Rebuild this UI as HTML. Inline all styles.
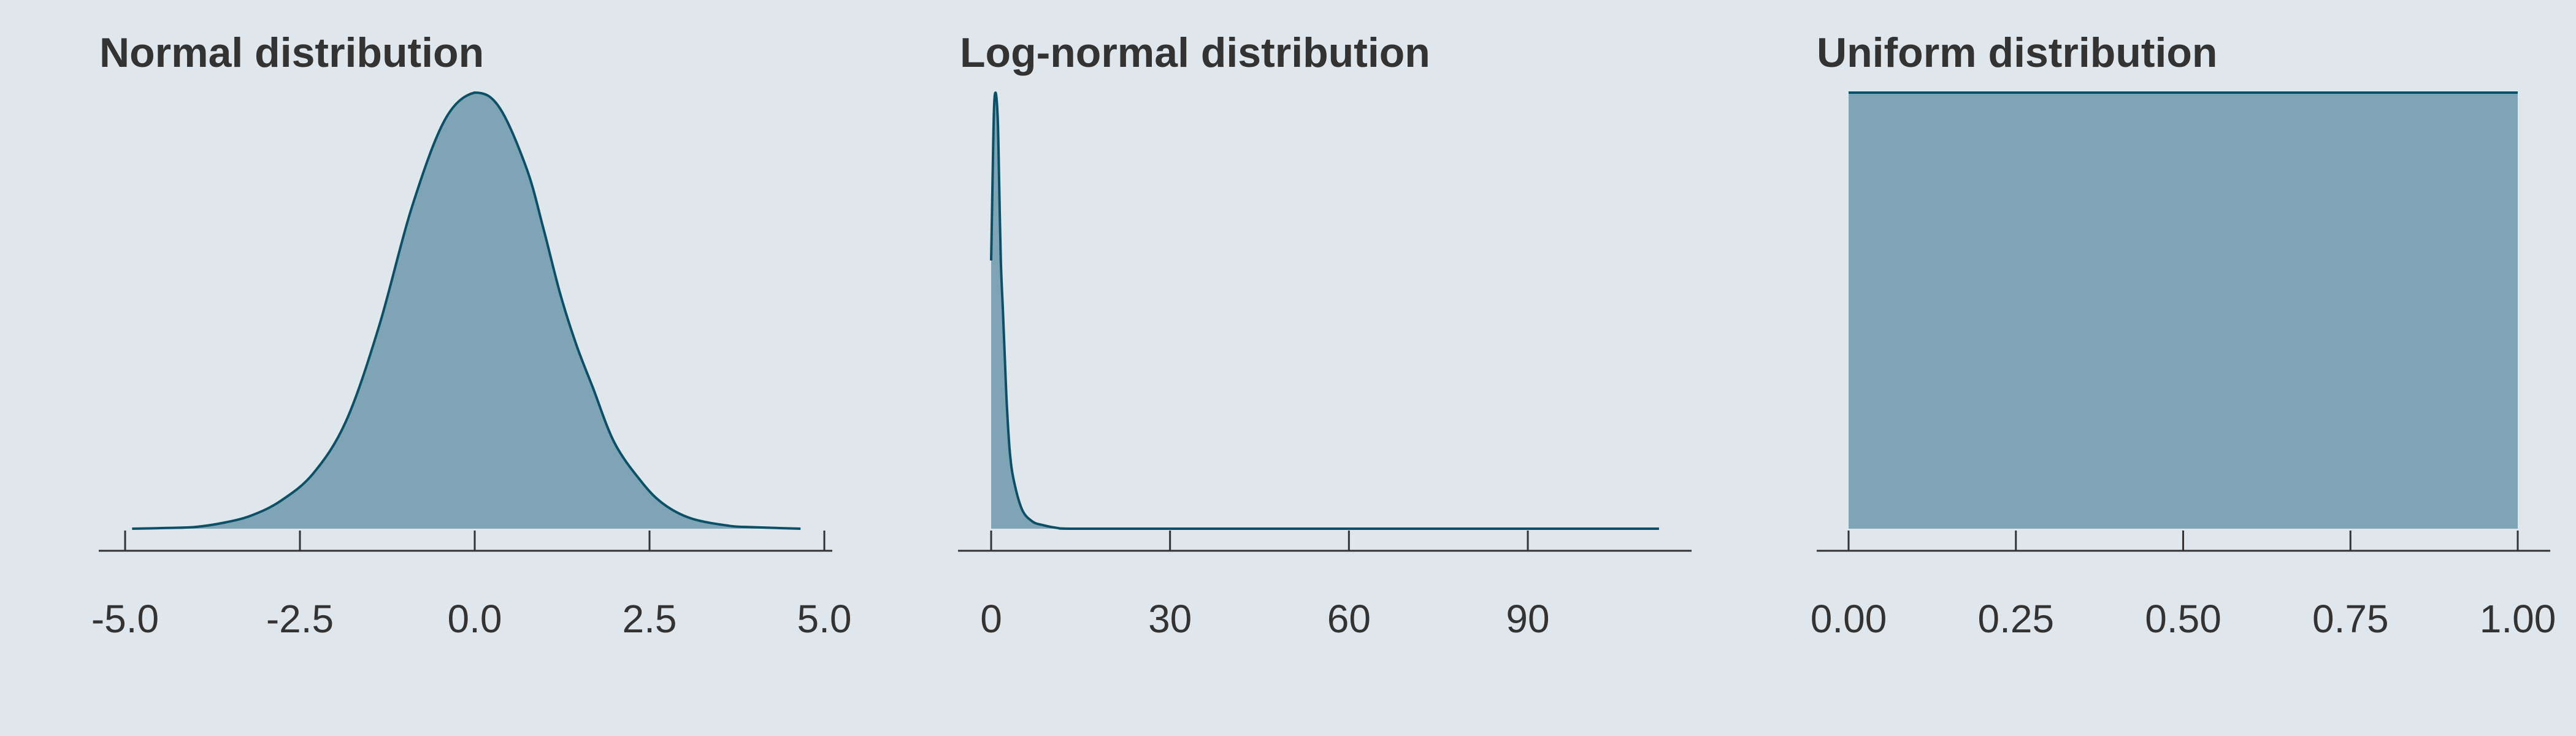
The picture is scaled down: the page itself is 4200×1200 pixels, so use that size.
<!DOCTYPE html>
<html><head><meta charset="utf-8"><style>
html,body{margin:0;padding:0;background:#dfe6ec;}
svg{display:block;}
text{font-family:"Liberation Sans",Arial,sans-serif;fill:#333;}
</style></head><body>
<svg id="chart" width="4200" height="1200" viewBox="0 0 4200 1200" xmlns="http://www.w3.org/2000/svg">
<rect x="0" y="0" width="4200" height="1200" fill="#dfe6ec"/>
</svg>
<script>
// Normal distribution density
const normalX = [-4.9,-4.4,-4.0,-3.6,-3.2,-2.78,-2.31,-1.84,-1.37,-0.9,-0.43,0,0.35,0.74,0.98,1.22,1.45,1.69,2.0,2.39,2.7,3.1,3.64,4.0,4.66];
const normalY = [0,0.0005,0.0012,0.004,0.009,0.019,0.038,0.074,0.139,0.221,0.281,0.3,0.29,0.248,0.207,0.162,0.127,0.097,0.059,0.032,0.017,0.007,0.002,0.001,0];
const normalTicks = [-5,-2.5,0,2.5,5];
const normalTickLabels = ["-5.0","-2.5","0.0","2.5","5.0"];
// Log-normal density
const lognormX = [0,0.24,0.48,0.75,1.1,1.34,1.61,1.96,2.3,2.64,3.16,3.84,5.2,6.9,8.64,11,13.8,30,60,90,112];
const lognormY = [0.369,0.479,0.578,0.6,0.565,0.479,0.371,0.302,0.233,0.168,0.103,0.065,0.026,0.010,0.005,0.0012,0,0,0,0,0];
const lognormTicks = [0,30,60,90];
const lognormTickLabels = ["0","30","60","90"];
// Uniform density
const uniformX = [0,1];
const uniformY = [1,1];
const uniformTicks = [0,0.25,0.5,0.75,1];
const uniformTickLabels = ["0.00","0.25","0.50","0.75","1.00"];

const NS = "http://www.w3.org/2000/svg";
const svg = document.getElementById('chart');
function mk(tag, attrs, parent){
  const e = document.createElementNS(NS, tag);
  for (const k in attrs) e.setAttribute(k, attrs[k]);
  (parent||svg).appendChild(e);
  return e;
}
function smoothPath(pts, minY, maxY){
  let d = 'M' + pts[0][0].toFixed(1) + ',' + pts[0][1].toFixed(1);
  const cl = v => Math.max(minY, Math.min(maxY, v));
  for (let i = 0; i < pts.length - 1; i++){
    const p0 = pts[i-1] || pts[i], p1 = pts[i], p2 = pts[i+1], p3 = pts[i+2] || p2;
    const c1x = p1[0] + (p2[0]-p0[0])/6, c1y = cl(p1[1] + (p2[1]-p0[1])/6);
    const c2x = p2[0] - (p3[0]-p1[0])/6, c2y = cl(p2[1] - (p3[1]-p1[1])/6);
    d += ' C' + c1x.toFixed(1)+','+c1y.toFixed(1)+' '+c2x.toFixed(1)+','+c2y.toFixed(1)+' '+p2[0].toFixed(1)+','+p2[1].toFixed(1);
  }
  return d;
}
const BASE = 862, SPAN = 711;
function panel(cfg){
  const g = mk('g', {});
  
  
  const sx = v => cfg.x0 + (v - cfg.d0) / (cfg.d1 - cfg.d0) * (cfg.x1 - cfg.x0);
  const sy = v => BASE - v / cfg.ymax * SPAN;
  const t = mk('text', {x: cfg.titleX, y: 109, 'font-size': 68, 'font-weight': 'bold'}, g);
  t.textContent = cfg.title;
  
  
  const pts = cfg.xs.map((x,i)=>[sx(x), sy(cfg.ys[i])]);
  const topY = Math.min(...pts.map(p=>p[1]));
  const ld = smoothPath(pts, topY, BASE);
  const ad = ld + ' L' + pts[pts.length-1][0].toFixed(1) + ',' + BASE + ' L' + pts[0][0].toFixed(1) + ',' + BASE + ' Z';
  const area = mk('path', {d: ad, fill: '#7fa4b5', stroke: 'none'}, g);
  
  
  const line = mk('path', {d: ld, fill: 'none', stroke: '#0b5066', 'stroke-width': 4, 'stroke-linejoin': 'round'}, g);
  
  
  const ax = mk('line', {x1: cfg.axA, x2: cfg.axB, y1: 898, y2: 898, stroke: '#333', 'stroke-width': 3}, g);
  
  
  cfg.ticks.forEach((tv,i)=>{
    const tk = mk('line', {x1: sx(tv), x2: sx(tv), y1: 865, y2: 898, stroke: '#333', 'stroke-width': 3}, g);
    
    
    const lb = mk('text', {x: sx(tv), y: 1031, 'font-size': 64, 'text-anchor': 'middle'}, g);
    lb.textContent = cfg.labels[i];
    
    
  });
}
panel({name:'normal-panel', title:'Normal distribution', titleX:162, x0:204, x1:1344, d0:-5, d1:5, ymax:0.3,
  xs:normalX, ys:normalY, ticks:normalTicks, labels:normalTickLabels, axA:161, axB:1357});
panel({name:'lognormal-panel', title:'Log-normal distribution', titleX:1565, x0:1616, x1:2491, d0:0, d1:90, ymax:0.6,
  xs:lognormX, ys:lognormY, ticks:lognormTicks, labels:lognormTickLabels, axA:1562, axB:2758});
panel({name:'uniform-panel', title:'Uniform distribution', titleX:2962, x0:3014, x1:4105, d0:0, d1:1, ymax:1,
  xs:uniformX, ys:uniformY, ticks:uniformTicks, labels:uniformTickLabels, axA:2962, axB:4158});
</script>
</body></html>
